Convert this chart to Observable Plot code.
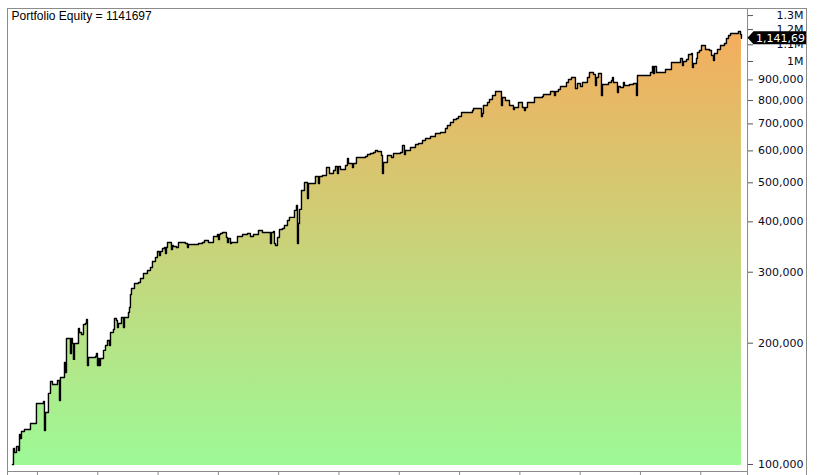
<!DOCTYPE html>
<html>
<head>
<meta charset="utf-8">
<script src="https://cdn.jsdelivr.net/npm/d3@7"></script>
<script src="https://cdn.jsdelivr.net/npm/@observablehq/plot@0.6"></script>
<style>
  html, body { margin: 0; padding: 0; background: #fff; }
  #chart { width: 826px; height: 475px; overflow: hidden; }
</style>
</head>
<body>
<div id="chart"></div>
<script>
// ---- data ----
const years = [
  2007.585, 2007.602, 2007.619, 2007.652, 2007.685, 2007.702, 2007.718, 2007.735, 2007.784, 2007.884,
  2007.983, 2008.100, 2008.116, 2008.133, 2008.182, 2008.216, 2008.249, 2008.332, 2008.365, 2008.381,
  2008.431, 2008.448, 2008.464, 2008.481, 2008.547, 2008.564, 2008.580, 2008.597, 2008.614, 2008.680,
  2008.697, 2008.730, 2008.763, 2008.796, 2008.813, 2008.829, 2008.846, 2008.962, 2008.978, 2008.995,
  2009.012, 2009.028, 2009.045, 2009.095, 2009.128, 2009.161, 2009.194, 2009.211, 2009.260, 2009.277,
  2009.310, 2009.327, 2009.343, 2009.393, 2009.426, 2009.443, 2009.509, 2009.526, 2009.542, 2009.559,
  2009.609, 2009.675, 2009.708, 2009.758, 2009.824, 2009.874, 2009.907, 2009.957, 2009.990, 2010.023,
  2010.040, 2010.073, 2010.106, 2010.123, 2010.139, 2010.156, 2010.222, 2010.239, 2010.255, 2010.305,
  2010.338, 2010.454, 2010.488, 2010.504, 2010.587, 2010.670, 2010.736, 2010.770, 2010.836, 2010.919,
  2010.985, 2011.002, 2011.018, 2011.035, 2011.068, 2011.134, 2011.151, 2011.168, 2011.201, 2011.217,
  2011.317, 2011.400, 2011.483, 2011.532, 2011.582, 2011.665, 2011.731, 2011.831, 2011.864, 2011.881,
  2011.914, 2011.930, 2011.947, 2011.980, 2012.013, 2012.063, 2012.096, 2012.146, 2012.179, 2012.246,
  2012.262, 2012.295, 2012.312, 2012.328, 2012.345, 2012.378, 2012.428, 2012.478, 2012.494, 2012.610,
  2012.660, 2012.677, 2012.726, 2012.793, 2012.843, 2012.909, 2012.942, 2012.975, 2012.992, 2013.025,
  2013.108, 2013.141, 2013.158, 2013.224, 2013.241, 2013.290, 2013.440, 2013.473, 2013.522, 2013.572,
  2013.605, 2013.639, 2013.705, 2013.722, 2013.738, 2013.804, 2013.871, 2013.904, 2014.020, 2014.053,
  2014.086, 2014.103, 2014.186, 2014.269, 2014.318, 2014.385, 2014.435, 2014.518, 2014.600, 2014.683,
  2014.766, 2014.799, 2014.849, 2014.899, 2014.949, 2014.982, 2015.032, 2015.214, 2015.231, 2015.347,
  2015.363, 2015.380, 2015.396, 2015.463, 2015.496, 2015.546, 2015.596, 2015.695, 2015.712, 2015.761,
  2015.828, 2015.894, 2015.911, 2015.960, 2015.977, 2016.043, 2016.076, 2016.093, 2016.126, 2016.242,
  2016.375, 2016.391, 2016.508, 2016.574, 2016.591, 2016.640, 2016.673, 2016.773, 2016.806, 2016.856,
  2016.922, 2016.955, 2017.005, 2017.038, 2017.121, 2017.154, 2017.221, 2017.254, 2017.271, 2017.304,
  2017.353, 2017.370, 2017.470, 2017.519, 2017.536, 2017.552, 2017.619, 2017.635, 2017.668, 2017.718,
  2017.735, 2017.818, 2017.884, 2017.934, 2017.950, 2018.166, 2018.199, 2018.216, 2018.232, 2018.266,
  2018.415, 2018.514, 2018.664, 2018.697, 2018.713, 2018.763, 2018.796, 2018.846, 2018.862, 2018.879,
  2018.929, 2018.945, 2018.979, 2019.012, 2019.078, 2019.145, 2019.178, 2019.211, 2019.227, 2019.277,
  2019.327, 2019.393, 2019.426, 2019.460, 2019.493, 2019.609, 2019.625, 2019.659, 2019.675
];
const equity = [
  100000, 109600, 107100, 110800, 108300, 118700, 116000, 120700, 122100, 126400,
  141700, 143300, 121400, 134600, 150100, 160700, 158000, 161600, 144100, 164400,
  164400, 179100, 169200, 205400, 188600, 205400, 199700, 182300, 199700, 217500,
  212600, 210200, 222500, 223800, 229000, 176100, 184300, 185400, 188600, 176100,
  183300, 176100, 183300, 191900, 197400, 203100, 197400, 212600, 216300, 230300,
  227700, 218800, 223800, 231600, 218800, 231600, 238400, 245200, 264100, 273400,
  281300, 282900, 289400, 297800, 303000, 308200, 318900, 326300, 337700, 330100,
  337700, 343500, 345500, 333900, 345500, 355500, 341600, 349500, 347500, 345500,
  355500, 353500, 345500, 351500, 351500, 353500, 355500, 359600, 355500, 367900,
  372200, 361700, 372200, 374300, 376400, 365800, 355500, 363700, 353500, 355500,
  367900, 372200, 374300, 367900, 372200, 380800, 376400, 376400, 353500, 376400,
  378600, 353500, 349500, 365800, 382900, 385100, 391800, 403200, 410300, 410300,
  427100, 439400, 353500, 396300, 429500, 478500, 500900, 457200, 498000, 518300,
  498000, 518300, 521300, 545700, 527300, 536400, 548800, 527300, 548800, 539500,
  552000, 574500, 558300, 545700, 558300, 577800, 581100, 587800, 591100, 594500,
  601300, 597900, 584400, 527300, 561500, 584400, 577800, 591100, 594500, 618800,
  587800, 601300, 611700, 622300, 625900, 636700, 644000, 651500, 662700, 666500,
  681900, 693700, 705700, 717900, 722000, 730300, 747200, 755800, 764400, 764400,
  730300, 742900, 777700, 791100, 804800, 823400, 842400, 777700, 814000, 800200,
  777700, 760100, 768800, 768800, 791100, 768800, 755800, 768800, 791100, 814000,
  818700, 828100, 842400, 823400, 842400, 852100, 866900, 886900, 902200, 912600,
  857000, 881800, 866900, 886900, 912600, 939000, 928400, 871800, 912600, 933700,
  823400, 876800, 886900, 897100, 912600, 886900, 837600, 866900, 861900, 886900,
  871800, 876800, 881800, 823400, 923100, 939000, 971800, 933700, 971800, 939000,
  955300, 994300, 1017300, 977400, 1000000, 1011500, 1040800, 1046800, 966300, 988600,
  1017300, 1052700, 1064900, 1095800, 1071000, 1064900, 1034900, 1005700, 1046800, 1071000,
  1095800, 1108400, 1140500, 1160200, 1173500, 1173500, 1187000, 1166800, 1141697
];
const yTicks = [100000, 200000, 300000, 400000, 500000, 600000, 700000, 800000, 900000, 1000000, 1100000, 1200000, 1300000];
const xTicks = [2008, 2009, 2010, 2011, 2012, 2013, 2014, 2015, 2016, 2017, 2018, 2019];
const yDomain = [96080, 1353600];
const xDomain = [2007.503, 2019.775];
const fillBase = 99500;
const titleLabel = "Portfolio Equity";

// ---- layout ----
const W = 826, H = 475;
const mLeft = 7, mRight = 79, mTop = 8, mBottom = 4;
const panelRight = W - 20;
const frameColor = "#8c8c8c";

const data = years.map((t, i) => ({t, v: equity[i]}));
const lastVal = equity[equity.length - 1];
const fmtTick = d => d >= 1e6 ? (d / 1e6) + "M" : d3.format(",")(d);

const chart = Plot.plot({
  width: W, height: H,
  marginLeft: mLeft, marginRight: mRight, marginTop: mTop, marginBottom: mBottom,
  x: {type: "linear", domain: xDomain},
  y: {type: "log", domain: yDomain},
  style: {background: "#fff", fontFamily: "'DejaVu Sans', sans-serif", fontSize: "11px", overflow: "visible"},
  marks: [
    Plot.area(data, {x1: "t", y1: () => fillBase, y2: "v", curve: "step-after", fill: "url(#eqgrad)"}),
    Plot.line(data, {x: "t", y: "v", curve: "step-after", stroke: "#000", strokeWidth: 1.4}),
    Plot.frame({stroke: frameColor}),
    Plot.axisY({anchor: "right", ticks: yTicks, tickFormat: fmtTick, tickSize: 5, tickPadding: 51,
      textAnchor: "end", stroke: "#555", fill: "#0a0a20", label: null}),
    Plot.axisX({anchor: "bottom", ticks: xTicks, tickSize: 6, tickFormat: () => "", stroke: frameColor, label: null}),
    Plot.text([`${titleLabel} = ${lastVal}`], {frameAnchor: "top-left", dx: 4, dy: 3, lineAnchor: "top",
      textAnchor: "start", fontFamily: "'Liberation Sans', Arial, sans-serif", fontSize: 12, fill: "#000"})
  ]
});
document.getElementById("chart").appendChild(chart);

// ---- gradient, label box and panel borders drawn with the plot's scales ----
const svg = d3.select(chart);
const ys = chart.scale("y");
const [yBottom, yTop] = ys.range;
const defs = svg.insert("defs", ":first-child");
const grad = defs.append("linearGradient").attr("id", "eqgrad")
  .attr("gradientUnits", "userSpaceOnUse")
  .attr("x1", 0).attr("x2", 0).attr("y1", yBottom).attr("y2", yTop);
grad.append("stop").attr("offset", "0%").attr("stop-color", "#9cfa97");
grad.append("stop").attr("offset", "100%").attr("stop-color", "#f9a95a");
defs.append("clipPath").attr("id", "lblclip").append("rect")
  .attr("x", 0).attr("y", 0).attr("width", panelRight).attr("height", H);

const xr = W - mRight;
// extra border lines of the axis panel
const borders = svg.append("g").attr("stroke", frameColor).attr("stroke-width", 1).attr("shape-rendering", "crispEdges");
borders.append("line").attr("x1", mLeft + 0.5).attr("x2", mLeft + 0.5).attr("y1", H - mBottom).attr("y2", H);
borders.append("line").attr("x1", xr + 0.5).attr("x2", xr + 0.5).attr("y1", H - mBottom).attr("y2", H);
borders.append("line").attr("x1", xr).attr("x2", panelRight + 0.5).attr("y1", mTop + 0.5).attr("y2", mTop + 0.5);

const yl = ys.apply(lastVal);
const lbl = svg.append("g").attr("clip-path", "url(#lblclip)");
lbl.append("path")
  .attr("d", `M${xr + 0.5},${yl} L${xr + 6.5},${yl - 6.5} H${panelRight + 30} V${yl + 6.5} H${xr + 6.5} Z`)
  .attr("fill", "#000");
lbl.append("text").attr("x", xr + 9).attr("y", yl).attr("dy", "0.36em")
  .attr("text-anchor", "start")
  .attr("fill", "#fff").attr("font-family", "'DejaVu Sans', sans-serif").attr("font-size", 11)
  .text(d3.format(",")(lastVal));

borders.raise();
borders.append("line").attr("x1", panelRight + 0.5).attr("x2", panelRight + 0.5).attr("y1", mTop).attr("y2", H);
</script>
</body>
</html>
